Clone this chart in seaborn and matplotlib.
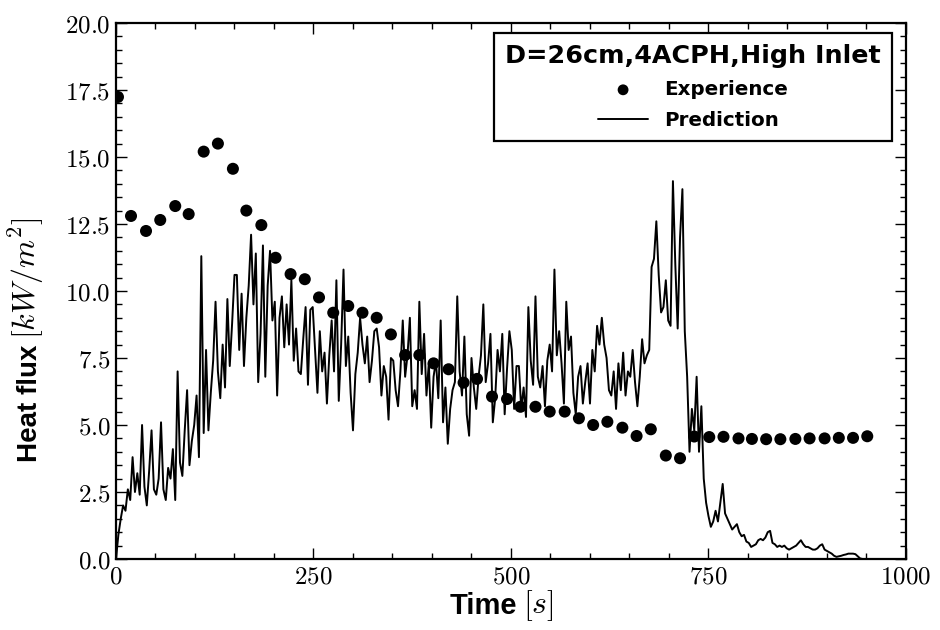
import numpy as np
import pandas as pd
import matplotlib
matplotlib.use("Agg")
import matplotlib.pyplot as plt
import seaborn as sns
from matplotlib import font_manager
from matplotlib.ticker import MultipleLocator, FuncFormatter

# ---------------- data ----------------
exp_time = [2.5, 19, 38, 56, 75, 92, 111, 129, 148, 165, 184, 202, 221, 239, 257,
            275, 294, 312, 330, 348, 366, 384, 402, 421, 440, 457, 476, 495, 512,
            531, 549, 568, 586, 604, 622, 641, 659, 677, 696, 714, 732, 751, 769,
            788, 805, 823, 841, 860, 878, 897, 915, 933, 951]
exp_flux = [17.24, 12.8, 12.24, 12.65, 13.17, 12.87, 15.2, 15.5, 14.56, 13.0, 12.46,
            11.24, 10.63, 10.44, 9.76, 9.19, 9.44, 9.19, 9.0, 8.38, 7.61, 7.61, 7.3,
            7.08, 6.58, 6.72, 6.06, 5.97, 5.68, 5.68, 5.5, 5.5, 5.25, 5.0, 5.12, 4.9,
            4.59, 4.84, 3.86, 3.76, 4.57, 4.55, 4.56, 4.5, 4.48, 4.47, 4.47, 4.48,
            4.5, 4.5, 4.52, 4.52, 4.58]

pred_step = 3  # sampling interval of the prediction, s
pred_flux = [
    0.0, 0.9, 1.5, 2.0, 1.8, 2.6, 2.2, 3.8, 2.5, 3.2,
    2.4, 5.0, 2.7, 2.0, 3.3, 4.8, 2.6, 2.4, 3.0, 5.1,
    2.6, 2.2, 3.4, 3.0, 4.1, 2.2, 7.0, 3.6, 3.1, 4.8,
    6.3, 3.5, 4.4, 5.0, 6.1, 3.8, 11.3, 4.7, 7.8, 4.8,
    6.2, 7.4, 9.6, 7.0, 6.0, 8.0, 6.4, 9.7, 7.2, 8.8,
    10.6, 10.6, 7.8, 9.9, 7.2, 9.0, 10.2, 12.1, 9.5, 11.4,
    6.6, 8.4, 11.7, 6.8, 10.2, 11.5, 8.9, 9.6, 6.1, 9.0,
    9.8, 7.9, 9.5, 8.0, 10.4, 7.4, 8.6, 7.0, 6.9, 8.2,
    9.4, 6.5, 9.3, 9.4, 7.8, 6.2, 8.5, 7.0, 7.7, 5.8,
    7.6, 8.9, 7.0, 10.4, 5.9, 8.0, 10.8, 7.2, 8.3, 6.2,
    4.8, 6.9, 7.7, 9.0, 8.0, 7.3, 8.3, 6.6, 7.4, 8.5,
    8.6, 7.9, 6.1, 7.2, 6.8, 5.2, 7.5, 7.4, 6.3, 5.7,
    7.0, 8.9, 6.8, 7.6, 9.0, 5.7, 6.3, 5.6, 9.6, 6.9,
    8.4, 6.1, 7.3, 4.9, 6.8, 7.4, 6.0, 8.9, 5.1, 6.4,
    4.3, 5.6, 6.3, 6.6, 9.8, 7.0, 6.1, 8.3, 5.4, 4.6,
    7.5, 6.4, 5.6, 6.8, 7.6, 9.5, 6.6, 7.3, 8.4, 5.1,
    6.0, 7.8, 7.0, 8.4, 5.4, 7.1, 8.5, 7.8, 5.6, 7.2,
    7.2, 5.6, 6.4, 5.3, 9.4, 7.4, 6.5, 9.8, 6.8, 6.4,
    7.2, 5.7, 7.4, 8.0, 7.0, 10.8, 7.6, 8.5, 7.3, 5.8,
    9.6, 7.8, 8.3, 6.2, 5.4, 6.8, 7.2, 5.8, 6.6, 7.3,
    5.8, 7.8, 7.0, 8.7, 8.0, 9.0, 8.0, 7.5, 6.3, 6.1,
    7.0, 5.6, 7.3, 6.3, 7.7, 6.1, 7.0, 6.8, 7.8, 6.6,
    5.7, 6.8, 8.2, 7.3, 7.6, 7.8, 10.9, 11.2, 12.6, 10.6,
    9.2, 9.4, 10.4, 8.9, 8.7, 14.1, 11.0, 8.6, 12.0, 13.8,
    8.5, 6.8, 4.0, 5.6, 4.8, 6.8, 4.0, 5.7, 3.0, 2.1,
    1.6, 1.2, 1.4, 1.8, 1.4, 2.1, 2.8, 1.7, 1.5, 1.3,
    1.1, 1.2, 1.3, 1.0, 0.85, 0.9, 0.65, 0.6, 0.45, 0.5,
    0.55, 0.7, 0.75, 0.7, 0.8, 1.0, 1.05, 0.6, 0.55, 0.45,
    0.5, 0.45, 0.5, 0.4, 0.35, 0.4, 0.45, 0.5, 0.6, 0.7,
    0.55, 0.45, 0.45, 0.4, 0.35, 0.35, 0.4, 0.5, 0.55, 0.35,
    0.3, 0.25, 0.2, 0.12, 0.08, 0.1, 0.12, 0.15, 0.17, 0.2,
    0.2, 0.2, 0.18, 0.1, 0.02, 0.0, 0.0, 0.0, 0.0,
]
pred_time = [i * pred_step for i in range(len(pred_flux))]

x_ticks = [0, 250, 500, 750, 1000]
y_ticks = [0.0, 2.5, 5.0, 7.5, 10.0, 12.5, 15.0, 17.5, 20.0]

legend_title = "D=26cm,4ACPH,High Inlet"
xlabel_word, xlabel_unit = "Time", r"$[s]$"
ylabel_word, ylabel_unit = "Heat flux", r"$[kW/m^2]$"

# ---------------- style ----------------
sns.set_style("ticks")
plt.rcParams["font.family"] = ["DejaVu Sans"]
plt.rcParams["mathtext.fontset"] = "cm"
for key in ["text.color", "axes.labelcolor", "xtick.color", "ytick.color",
            "axes.edgecolor"]:
    plt.rcParams[key] = "black"

available = {f.name for f in font_manager.fontManager.ttflist}
label_family = "Liberation Sans Narrow" if "Liberation Sans Narrow" in available else "Liberation Sans"

fig = plt.figure(figsize=(9.4, 6.3), dpi=100)
ax = fig.add_axes([0.1234, 0.1127, 0.8404, 0.8508])

exp_df = pd.DataFrame({"time": exp_time, "flux": exp_flux})
pred_df = pd.DataFrame({"time": pred_time, "flux": pred_flux})

sns.lineplot(data=pred_df, x="time", y="flux", ax=ax, color="black",
             linewidth=1.4, estimator=None, sort=False, label="Prediction")
sns.scatterplot(data=exp_df, x="time", y="flux", ax=ax, color="black",
                s=75, edgecolor="none", zorder=3, label="Experience")

ax.set_xlim(0, 1000)
ax.set_ylim(0, 20)
ax.set_xticks(x_ticks)
ax.set_yticks(y_ticks)
ax.xaxis.set_minor_locator(MultipleLocator(50))
ax.yaxis.set_minor_locator(MultipleLocator(0.5))
ax.xaxis.set_major_formatter(FuncFormatter(lambda v, p: r"$%d$" % v))
ax.yaxis.set_major_formatter(FuncFormatter(lambda v, p: r"$%.1f$" % v))
ax.tick_params(which="both", direction="in", top=True, right=True,
               color="black", labelcolor="black", width=1.0)
ax.tick_params(which="major", length=8, labelsize=18, pad=4)
ax.tick_params(which="minor", length=4)
for s in ax.spines.values():
    s.set_linewidth(1.6)
    s.set_color("black")

# axis labels: bold word + larger math unit
ax.set_xlabel(xlabel_word, fontsize=21, fontweight="bold", family=label_family,
              color="black")
ax.xaxis.set_label_coords(0.465, -0.062)
ax.annotate(xlabel_unit, xy=(1, 0), xycoords=ax.xaxis.label,
            xytext=(4, -2), textcoords="offset points",
            ha="left", va="bottom", fontsize=23, color="black")

ax.set_ylabel(ylabel_word, fontsize=20, fontweight="bold", family=label_family,
              color="black")
ax.yaxis.set_label_coords(-0.092, 0.29)
ax.annotate(ylabel_unit, xy=(1, 1), xycoords=ax.yaxis.label,
            xytext=(2, 4), textcoords="offset points",
            ha="right", va="bottom", rotation=90, fontsize=23, color="black")

handles, labels = ax.get_legend_handles_labels()
order = [labels.index("Experience"), labels.index("Prediction")]
leg = ax.legend([handles[i] for i in order], [labels[i] for i in order],
                title=legend_title, loc="upper right",
                bbox_to_anchor=(0.982, 0.981),
                frameon=True, fancybox=False, framealpha=1,
                edgecolor="black", borderaxespad=0.0,
                prop={"family": "DejaVu Sans", "weight": "bold", "size": 14.3},
                title_fontproperties={"family": "DejaVu Sans", "weight": "bold", "size": 18.3},
                handlelength=2.5, handletextpad=0.8, borderpad=0.55,
                labelspacing=0.6, markerscale=0.9)
leg.get_frame().set_linewidth(1.6)
for t in leg.get_texts():
    t.set_color("black")
leg.get_title().set_color("black")

fig.savefig("out.png", dpi=100, facecolor="white")
